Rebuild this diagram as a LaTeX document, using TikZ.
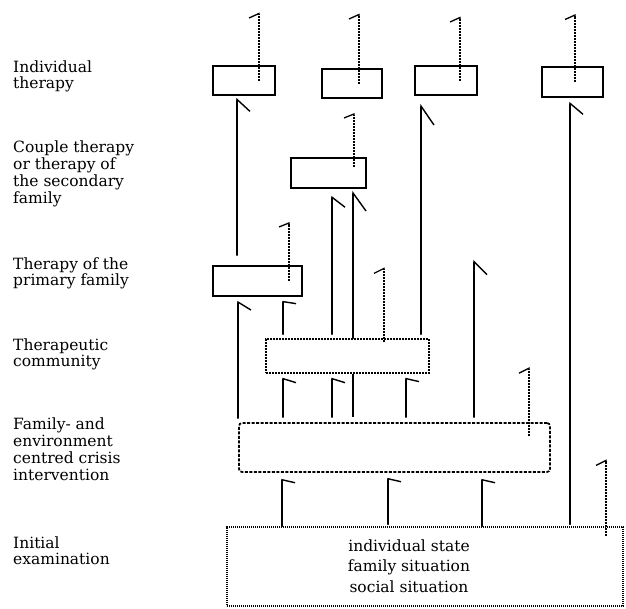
\documentclass[tikz,border=0pt]{standalone}
\usepackage{fontspec}
\setmainfont{DejaVu Serif}
\usetikzlibrary{arrows.meta}
\tikzset{
  box/.style={draw, line width=1.6pt, inner sep=0pt},
  lbl/.style={anchor=base west, align=left, inner sep=0pt, font=\fontsize{15.5}{16.7}\selectfont},
  up/.style={line width=1.4pt, line cap=round, -{Straight Barb[harpoon, swap, length=#1, width=26pt]}},
  exit/.style={line width=1.3pt, dash pattern=on 2pt off 1pt, -{Straight Barb[harpoon, length=#1, width=20pt]}},
}
\begin{document}
\begin{tikzpicture}[x=1pt, y=-1pt]
\useasboundingbox (0,0) rectangle (626,608);
% levels (base = last line)
\node[lbl] (lindiv) at (13,88.7) {Individual\\therapy};
\node[lbl] (lcouple) at (13,203) {Couple therapy\\or therapy of\\the secondary\\family};
\node[lbl] (lprimary) at (13,285.7) {Therapy of the\\primary family};
\node[lbl] (lcommunity) at (13,366.7) {Therapeutic\\community};
\node[lbl] (lcrisis) at (13,480) {Family- and\\environment\\centred crisis\\intervention};
\node[lbl] (linitial) at (13,564.7) {Initial\\examination};
% boxes
\node[box, minimum width=62pt, minimum height=29pt] (itA) at (244,80.5) {};
\node[box, minimum width=60pt, minimum height=29pt] (itB) at (352,83.5) {};
\node[box, minimum width=62pt, minimum height=29pt] (itC) at (446,80.5) {};
\node[box, minimum width=61pt, minimum height=30pt] (itD) at (572.5,82) {};
\node[box, minimum width=75pt, minimum height=30pt] (couple) at (328.5,173) {};
\node[box, minimum width=89pt, minimum height=30pt] (primary) at (257.5,281) {};
\node[box, line width=1.4pt, dash pattern=on 2pt off 1pt, minimum width=163pt, minimum height=34pt] (community) at (347.5,356) {};
\node[box, line width=1.7pt, dash pattern=on 3pt off 1.5pt, rounded corners=3pt, minimum width=311pt, minimum height=49pt] (crisis) at (394.5,447.5) {};
\node[box, line width=1.3pt, dash pattern=on 1.2pt off 0.8pt, minimum width=396pt, minimum height=79pt] (initial) at (425,566.5) {};
\node[anchor=base, align=center, inner sep=0pt, font=\fontsize{15.5}{20.5}\selectfont] (initialtxt) at (409,592) {individual state\\family situation\\social situation};
\coordinate (pfree) at (474,260);
% from the initial examination
\draw[up=3pt, shorten >=6pt] (initial.north -| 282,0) -- (crisis.south -| 282,0);
\draw[up=3pt, shorten <=2pt, shorten >=5pt] (initial.north -| 388,0) -- (crisis.south -| 388,0);
\draw[up=3pt, shorten >=6pt] (initial.north -| 482,0) -- (crisis.south -| 482,0);
\draw[up=11pt, shorten <=2pt, shorten >=4pt] (initial.north -| 570,0) -- (itD.south -| 570,0);
% from the crisis intervention
\draw[up=8pt, shorten <=4pt, shorten >=4pt] (crisis.north -| 238,0) -- (primary.south -| 238,0);
\foreach \x/\b in {283/4, 332/4, 406/3}
  \draw[up=\b pt, shorten <=5pt, shorten >=4pt] (crisis.north -| \x,0) -- (community.south -| \x,0);
\draw[line width=1.4pt, shorten <=5pt] (crisis.north -| 353,0) -- (community.south -| 353,0);
\draw[up=13pt, shorten <=5pt] (crisis.north -| 474,0) -- (pfree);
% from the therapeutic community
\draw[up=2pt, shorten <=4pt, shorten >=4pt] (community.north -| 283,0) -- (primary.south -| 283,0);
\draw[up=10pt, shorten <=4pt, shorten >=7pt] (community.north -| 332,0) -- (couple.south -| 332,0);
\draw[up=18pt, shorten >=2pt] (community.north -| 353,0) -- (couple.south -| 353,0);
\draw[up=19pt, shorten <=4pt, shorten >=8pt] (community.north -| 421,0) -- (itC.south -| 421,0);
% from the primary family
\draw[up=12pt, shorten <=10pt, shorten >=2pt] (primary.north -| 237,0) -- (itA.south -| 237,0);
% exits
\foreach \n/\x/\l in {itA/259/68, itB/359/70, itC/460/64, itD/575/68}
  \draw[exit=4.5pt] (\n.center -| \x,0) -- ++(0,-\l);
\draw[exit=4pt] (couple.center -| 354,0) ++(0,-6) -- ++(0,-54);
\draw[exit=4pt] (primary.center -| 289,0) -- ++(0,-59);
\draw[exit=5pt] (community.north -| 384,0) ++(0,4) -- ++(0,-75);
\draw[exit=5pt] (crisis.north -| 529,0) ++(0,14) -- ++(0,-69);
\draw[exit=5pt] (initial.north -| 606,0) ++(0,10) -- ++(0,-77);
\end{tikzpicture}
\end{document}
